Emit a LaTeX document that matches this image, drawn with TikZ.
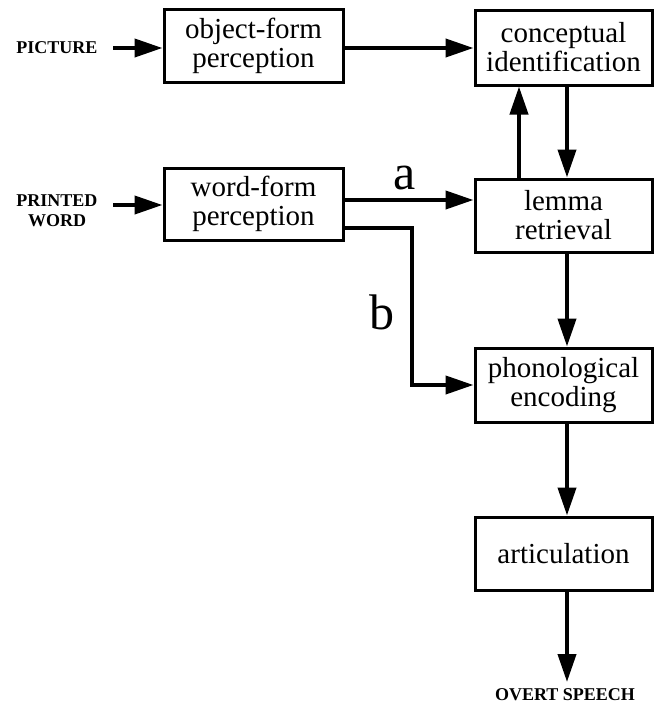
\documentclass[tikz,border=0pt]{standalone}
\usepackage{fontspec}
\setmainfont{Liberation Serif}
\usetikzlibrary{arrows.meta}
\begin{document}
\begin{tikzpicture}[x=1pt,y=-1pt,
  box/.style={draw,line width=3pt,align=center,inner sep=0pt,
    font=\fontsize{29}{29}\selectfont,minimum height=73pt},
  lbl/.style={font=\bfseries\fontsize{18}{20}\selectfont,align=center,inner sep=0pt},
  big/.style={font=\fontsize{50}{50}\selectfont,inner sep=0pt},
  arr/.style={line width=4pt,-{Triangle[length=28pt,width=18pt]}}]
\useasboundingbox (0,0) rectangle (655,704);
\node[box,minimum width=179pt] (obj) at (253.5,46) {object-form\\perception};
\node[box,minimum width=177pt,minimum height=75pt] (conc) at (563.5,47.5) {conceptual\\identification};
\node[box,minimum width=179pt,minimum height=72pt] (wf) at (253.5,204) {word-form\\perception};
\node[box,minimum width=177pt] (lem) at (563.5,215.5) {lemma\\retrieval};
\node[box,minimum width=177pt,minimum height=74pt] (phon) at (563.5,385) {phonological\\encoding};
\node[box,minimum width=177pt] (art) at (563.5,553.5) {articulation};
\node[lbl] (pic) at (57,48) {PICTURE};
\node[lbl] (pw) at (57,211) {PRINTED\\WORD};
\node[lbl,anchor=center] (os) at (565,695) {OVERT SPEECH};
\node[big] (la) at (405,178) {a};
\node[big] (lb) at (382,312) {b};
\coordinate (picS) at (113,48);
\coordinate (pwS) at (113,205);
\coordinate (osE) at (567,682);
\coordinate (bend) at (412,228);
\draw[arr] (picS) -- (obj.west |- picS);
\draw[arr] (pwS) -- (wf.west |- pwS);
\draw[arr] (obj.east |- 0,48) -- (conc.west |- 0,48);
\draw[arr] (conc.south -| 567,0) -- (lem.north -| 567,0);
\draw[arr] (lem.north -| 519,0) -- (conc.south -| 519,0);
\draw[arr] (wf.east |- 0,200) -- (lem.west |- 0,200);
\draw[arr] (wf.east |- bend) -- (bend) |- (phon.west);
\draw[arr] (lem.south -| 567,0) -- (phon.north -| 567,0);
\draw[arr] (phon.south -| 567,0) -- (art.north -| 567,0);
\draw[arr] (art.south -| osE) -- (osE);
\end{tikzpicture}
\end{document}
